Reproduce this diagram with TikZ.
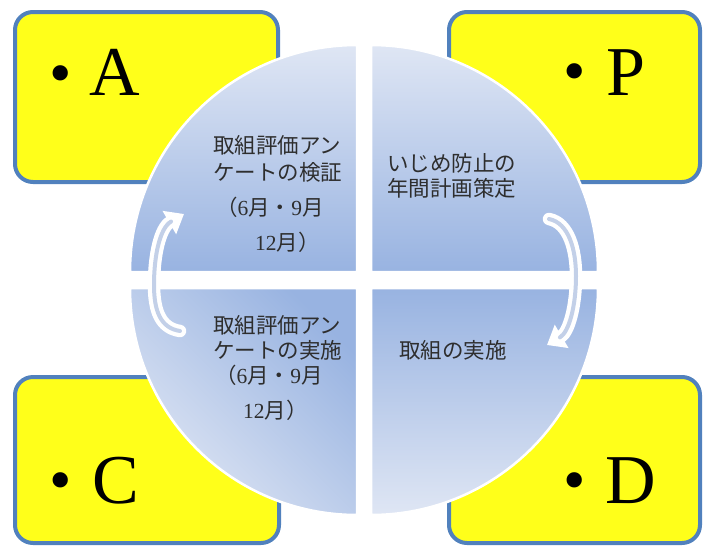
\documentclass[tikz,border=0pt]{standalone}
\usepackage{fontspec}
\setmainfont{Liberation Serif}
\newfontfamily\cjk{Noto Sans CJK JP}
\usetikzlibrary{arrows.meta}
\definecolor{boxyellow}{HTML}{FFFF1A}
\definecolor{boxblue}{HTML}{5181BD}
\definecolor{qlight}{HTML}{DFE6F4}
\definecolor{qdark}{HTML}{98B3E1}
\definecolor{arrin}{HTML}{C3D0E8}
\definecolor{txt}{HTML}{2E2E2E}
\tikzset{
  pdbox/.style={draw=boxblue, line width=4pt, fill=boxyellow, rounded corners=18pt},
  quad/.style={draw=white, line width=2.5pt},
  bigletter/.style={font=\fontsize{70}{70}\selectfont, inner sep=0pt, anchor=base west},
  bulletdot/.style={font=\fontsize{64}{64}\selectfont, inner sep=0pt},
  jtext/.style={font=\fontsize{21.5}{24}\selectfont\cjk, text=txt, inner sep=0pt, anchor=base west},
  arrouter/.style={draw=white, line width=12.5pt, line cap=round},
  arrinner/.style={draw=arrin, line width=4pt, line cap=round}
}
\newcommand{\dg}[1]{{\rmfamily\fontsize{21.5}{24}\selectfont #1}}
\begin{document}
\begin{tikzpicture}[x=1pt,y=1pt]
\useasboundingbox (0,0) rectangle (704,-547);
% boxes
\draw[pdbox] (15,-12) rectangle (278,-182);
\draw[pdbox] (449,-12) rectangle (700,-182);
\draw[pdbox] (15,-377) rectangle (279,-543);
\draw[pdbox] (449,-377) rectangle (700,-543);
% box labels
\node[bulletdot] (bA) at (61,-80) {•};
\node[bigletter] (lA) at (89,-95) {A};
\node[bulletdot] (bP) at (575,-78) {•};
\node[bigletter] (lP) at (606,-95) {P};
\node[bulletdot] (bC) at (61,-487) {•};
\node[bigletter] (lC) at (92,-503) {C};
\node[bulletdot] (bD) at (575,-487) {•};
\node[bigletter] (lD) at (605,-503) {D};
% quadrants
\shadedraw[quad, top color=qlight, bottom color=qdark]
  (357,-272) -- ++(-227,0) arc[start angle=180, end angle=90, radius=227] -- cycle;
\shadedraw[quad, top color=qlight, bottom color=qdark]
  (371,-272) -- ++(0,227) arc[start angle=90, end angle=0, radius=227] -- cycle;
\shadedraw[quad, top color=qdark, bottom color=qlight]
  (371,-288) -- ++(227,0) arc[start angle=0, end angle=-90, radius=227] -- cycle;
\shadedraw[quad, shading=axis, top color=qdark, bottom color=qlight, shading angle=-45]
  (357,-288) -- ++(0,-227) arc[start angle=270, end angle=180, radius=227] -- cycle;
% circular arrows
\coordinate (lt) at (180,-331);
\coordinate (lh) at (184,-214);
\coordinate (rt) at (549,-219);
\coordinate (rh) at (547,-345);
\draw[arrouter, -{Triangle[length=17pt,width=26pt]}] (lt) .. controls (160,-328) and (154,-310) .. (154,-285) .. controls (154,-255) and (160,-228) .. (lh);
\draw[arrinner, shorten >=15pt] (lt) .. controls (160,-328) and (154,-310) .. (154,-285) .. controls (154,-255) and (160,-228) .. (lh);
\draw[arrouter, -{Triangle[length=17pt,width=26pt]}] (rt) .. controls (569,-223) and (576,-250) .. (576,-276) .. controls (576,-306) and (569,-332) .. (rh);
\draw[arrinner, shorten >=15pt] (rt) .. controls (569,-223) and (576,-250) .. (576,-276) .. controls (576,-306) and (569,-332) .. (rh);
% texts
\node[jtext] (t1a) at (213,-153) {取組評価アン};
\node[jtext] (t1b) at (213,-180) {ケートの検証};
\node[jtext] (t1c) at (216,-215) {（\dg{6}月・\dg{9}月};
\node[jtext] (t1d) at (255,-250) {\dg{12}月）};
\node[jtext] (t2a) at (387,-171) {いじめ防止の};
\node[jtext] (t2b) at (387,-196) {年間計画策定};
\node[jtext] (t3a) at (213,-333) {取組評価アン};
\node[jtext] (t3b) at (213,-358) {ケートの実施};
\node[jtext] (t3c) at (215,-383) {（\dg{6}月・\dg{9}月};
\node[jtext] (t3d) at (243,-418) {\dg{12}月）};
\node[jtext] (t4a) at (399,-358) {取組の実施};
\end{tikzpicture}
\end{document}
